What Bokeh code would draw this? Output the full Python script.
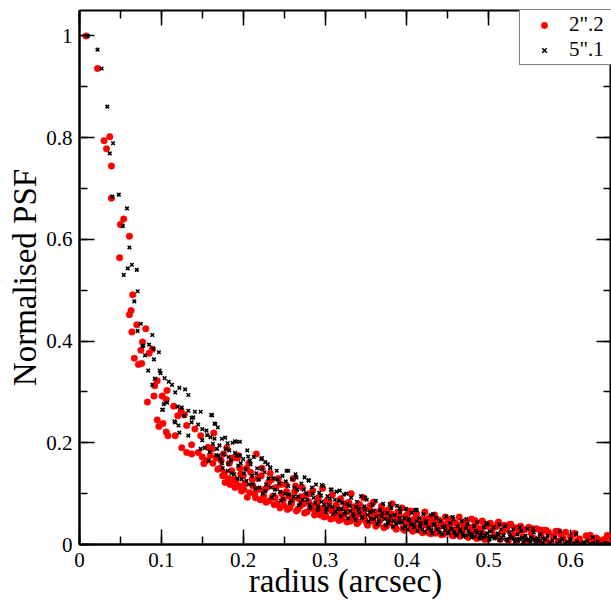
from bokeh.plotting import figure
from bokeh.models import (LinearAxis, SingleIntervalTicker, NumeralTickFormatter,
                          CustomJSTickFormatter, ColumnDataSource)
from bokeh.embed import file_html
from bokeh.resources import INLINE

# ---- data: (radius arcsec, normalised PSF) ----
core_22 = [(0.008,1.0),(0.022,0.936),(0.037,0.802),(0.030,0.794),(0.033,0.778),(0.039,0.744),
    (0.039,0.681),(0.054,0.640),(0.050,0.629),(0.061,0.606),(0.049,0.564),(0.065,0.491),
    (0.063,0.460),(0.061,0.452),(0.070,0.432),(0.081,0.424),(0.064,0.418),(0.077,0.398),
    (0.075,0.382),(0.067,0.366),(0.072,0.354),(0.076,0.356),(0.085,0.376),(0.095,0.322),
    (0.092,0.312),(0.083,0.280),(0.091,0.292),(0.101,0.292),(0.107,0.303),(0.106,0.285),
    (0.115,0.272),(0.124,0.263),(0.128,0.255),(0.095,0.245),(0.102,0.238),(0.141,0.227),
    (0.089,0.384),(0.120,0.253),(0.097,0.232),(0.131,0.234),(0.106,0.221),(0.108,0.214),
    (0.117,0.214),(0.148,0.214),(0.164,0.219),(0.137,0.196),(0.125,0.190),(0.131,0.181),
    (0.137,0.178),(0.145,0.181),(0.157,0.191),(0.162,0.188),(0.150,0.172),(0.152,0.159),
    (0.176,0.178),(0.194,0.175)]
halo_22 = [(0.172,0.150),(0.175,0.135),(0.178,0.122),(0.180,0.190),(0.183,0.160),(0.186,0.145),
    (0.188,0.128),(0.190,0.112),(0.193,0.170),(0.196,0.150),(0.198,0.105),(0.200,0.135),
    (0.202,0.120),(0.205,0.093),(0.207,0.160),(0.209,0.142),
    (0.212,0.115),(0.214,0.100),(0.216,0.178),(0.218,0.130),(0.221,0.088),(0.223,0.150),
    (0.226,0.108),(0.228,0.083),(0.231,0.122),(0.233,0.140),(0.236,0.095),(0.238,0.078),
    (0.240,0.112),(0.243,0.130),(0.245,0.072),(0.247,0.100),(0.249,0.088),
    (0.252,0.118),(0.254,0.069),(0.256,0.095),(0.259,0.080),(0.261,0.130),(0.263,0.104),
    (0.265,0.066),(0.268,0.090),(0.270,0.076),(0.272,0.112),(0.275,0.062),(0.277,0.098),
    (0.280,0.084),(0.282,0.071),(0.285,0.106),(0.287,0.058),(0.290,0.078),(0.292,0.092),
    (0.295,0.065),(0.297,0.110),(0.299,0.054),
    (0.302,0.086),(0.304,0.070),(0.307,0.050),(0.309,0.098),(0.312,0.062),(0.314,0.078),
    (0.317,0.047),(0.319,0.090),(0.322,0.058),(0.324,0.072),(0.327,0.044),(0.329,0.083),
    (0.332,0.100),(0.334,0.054),(0.337,0.067),(0.339,0.041),(0.342,0.079),(0.344,0.060),
    (0.347,0.092),(0.349,0.048),
    (0.352,0.038),(0.354,0.070),(0.357,0.056),(0.359,0.083),(0.362,0.036),(0.364,0.062),
    (0.367,0.047),(0.369,0.075),(0.372,0.033),(0.374,0.058),(0.377,0.068),(0.379,0.042),
    (0.382,0.080),(0.384,0.052),(0.387,0.030),(0.389,0.064),(0.392,0.045),(0.394,0.072),
    (0.397,0.028),(0.399,0.056),
    (0.402,0.040),(0.404,0.066),(0.407,0.026),(0.409,0.050),(0.412,0.060),(0.414,0.034),
    (0.417,0.045),(0.419,0.023),(0.422,0.064),(0.424,0.038),(0.427,0.052),(0.429,0.021),
    (0.432,0.044),(0.434,0.058),(0.437,0.031),(0.439,0.048),(0.442,0.019),(0.444,0.040),
    (0.447,0.054),(0.449,0.027),
    (0.452,0.036),(0.454,0.050),(0.457,0.017),(0.459,0.043),(0.462,0.030),(0.464,0.054),
    (0.467,0.022),(0.469,0.038),(0.472,0.046),(0.474,0.015),(0.477,0.034),(0.479,0.050),
    (0.482,0.026),(0.484,0.041),(0.487,0.013),(0.489,0.031),(0.492,0.046),(0.494,0.020),
    (0.497,0.036),(0.499,0.011),
    (0.502,0.042),(0.504,0.028),(0.507,0.017),(0.509,0.035),(0.512,0.044),(0.514,0.010),
    (0.517,0.024),(0.519,0.038),(0.522,0.030),(0.524,0.008),(0.527,0.040),(0.529,0.020),
    (0.532,0.033),(0.534,0.007),(0.537,0.026),(0.539,0.036),(0.542,0.015),(0.544,0.029),
    (0.547,0.006),(0.549,0.034),
    (0.552,0.022),(0.555,0.012),(0.558,0.031),(0.561,0.005),(0.564,0.018),(0.567,0.028),
    (0.570,0.009),(0.573,0.024),(0.576,0.004),(0.579,0.016),(0.582,0.026),(0.585,0.007),
    (0.588,0.020),(0.591,0.012),(0.594,0.024),(0.597,0.003),(0.600,0.015),(0.604,0.020),
    (0.607,0.006),(0.611,0.011),(0.615,0.002),(0.619,0.017),(0.623,0.008),(0.627,0.003),
    (0.631,0.013),(0.636,0.005),(0.641,0.010),(0.645,0.018),(0.648,0.003),
    (0.511,0.041),(0.525,0.039),(0.538,0.034),(0.553,0.031),(0.562,0.029),(0.570,0.028),
    (0.585,0.026),(0.605,0.022),(0.624,0.018),(0.633,0.011),(0.645,0.016),(0.483,0.047),
    (0.493,0.044),(0.501,0.041)]
fill_22 = [(0.155,0.165),(0.160,0.175),(0.163,0.160),(0.167,0.170),(0.169,0.148),(0.173,0.165),
    (0.177,0.140),(0.182,0.130),(0.184,0.118),(0.187,0.170),(0.191,0.125),(0.195,0.115),
    (0.197,0.138),(0.201,0.108),(0.204,0.150),(0.208,0.102),(0.211,0.128),(0.215,0.092),
    (0.219,0.108),(0.222,0.135),(0.225,0.095),(0.229,0.112),(0.232,0.086),(0.235,0.128),
    (0.239,0.092),(0.242,0.080),(0.246,0.118),(0.250,0.076),(0.253,0.104),(0.257,0.072),
    (0.260,0.088),(0.264,0.115),(0.267,0.070),(0.271,0.094),(0.274,0.080),(0.278,0.064),
    (0.281,0.100),(0.284,0.076),(0.288,0.066),(0.291,0.085),(0.294,0.058),(0.298,0.072),
    (0.301,0.056),(0.305,0.082),(0.308,0.066),(0.311,0.052),(0.315,0.070),(0.318,0.060),
    (0.321,0.050),(0.325,0.080),(0.328,0.064),(0.331,0.046),(0.335,0.074),(0.338,0.056),
    (0.341,0.044),(0.345,0.068),(0.348,0.058),(0.351,0.042),(0.355,0.076),(0.358,0.046),
    (0.361,0.064),(0.365,0.040),(0.368,0.054),(0.371,0.066),(0.375,0.036),(0.378,0.050),
    (0.381,0.060),(0.385,0.034),(0.388,0.046),(0.391,0.056),(0.395,0.032),(0.398,0.044),
    (0.401,0.060),(0.405,0.030),(0.408,0.042),(0.411,0.052),(0.415,0.028),(0.418,0.038),
    (0.421,0.050),(0.425,0.024),(0.428,0.036),(0.431,0.048),(0.435,0.022),(0.438,0.034),
    (0.441,0.044),(0.445,0.020),(0.448,0.032),(0.451,0.046),(0.455,0.018),(0.458,0.028),
    (0.461,0.040),(0.465,0.016),(0.468,0.026),(0.471,0.036),(0.475,0.014),(0.478,0.024),
    (0.481,0.032),(0.485,0.012),(0.488,0.022),(0.491,0.030),(0.495,0.010)]

core_51 = [(0.010,1.0),(0.022,0.973),(0.027,0.936),(0.034,0.861),(0.041,0.789),(0.037,0.769),
    (0.040,0.684),(0.048,0.688),(0.058,0.661),(0.053,0.626),(0.061,0.584),(0.064,0.550),
    (0.059,0.543),(0.070,0.540),(0.054,0.530),(0.071,0.498),(0.067,0.478),(0.075,0.434),
    (0.071,0.420),(0.089,0.412),(0.085,0.393),(0.078,0.391),(0.090,0.385),(0.080,0.372),
    (0.084,0.342),(0.091,0.364),(0.097,0.378),(0.098,0.342),(0.099,0.337),(0.104,0.327),
    (0.092,0.326),(0.089,0.314),(0.113,0.314),(0.117,0.299),(0.122,0.308),(0.129,0.305),
    (0.133,0.294),(0.101,0.265),(0.139,0.250),(0.148,0.261),(0.162,0.254),(0.169,0.230),
    (0.116,0.242),(0.121,0.234),(0.077,0.390),(0.109,0.320),(0.107,0.279),(0.103,0.276),
    (0.102,0.265),(0.120,0.271),(0.125,0.269),(0.133,0.263),(0.141,0.261),(0.128,0.253),
    (0.137,0.249),(0.117,0.240),(0.137,0.240),(0.145,0.236),(0.161,0.255),(0.165,0.238),
    (0.150,0.227),(0.155,0.224),(0.122,0.220),(0.133,0.214),(0.160,0.211),(0.165,0.208),
    (0.174,0.208),(0.181,0.199),(0.190,0.203),(0.148,0.188),(0.168,0.188),(0.158,0.165),
    (0.170,0.175),(0.182,0.172)]
halo_51 = [(0.171,0.195),(0.174,0.160),(0.176,0.178),(0.178,0.210),(0.181,0.145),(0.183,0.185),
    (0.185,0.165),(0.187,0.200),(0.189,0.138),(0.192,0.175),(0.194,0.155),(0.196,0.202),
    (0.198,0.128),(0.200,0.168),(0.203,0.148),(0.205,0.185),(0.207,0.118),(0.209,0.158),
    (0.211,0.135),(0.213,0.172),(0.215,0.110),(0.217,0.150),(0.219,0.128),(0.222,0.168),
    (0.224,0.100),(0.226,0.142),(0.228,0.118),(0.230,0.158),(0.233,0.151),(0.235,0.092),
    (0.237,0.130),(0.239,0.108),(0.241,0.145),(0.244,0.120),(0.246,0.086),(0.248,0.135),
    (0.251,0.100),(0.253,0.145),(0.255,0.115),(0.257,0.082),(0.260,0.128),(0.262,0.094),
    (0.264,0.138),(0.266,0.108),(0.268,0.077),(0.271,0.120),(0.273,0.088),(0.275,0.132),
    (0.277,0.100),(0.280,0.126),(0.282,0.072),(0.284,0.112),(0.286,0.092),(0.289,0.118),
    (0.291,0.068),(0.293,0.102),(0.296,0.084),(0.298,0.115),
    (0.301,0.064),(0.303,0.095),(0.305,0.078),(0.307,0.108),(0.310,0.060),(0.312,0.088),
    (0.314,0.104),(0.316,0.070),(0.319,0.056),(0.321,0.082),(0.323,0.098),(0.325,0.064),
    (0.328,0.052),(0.330,0.076),(0.332,0.092),(0.334,0.060),(0.337,0.048),(0.339,0.084),
    (0.341,0.070),(0.344,0.095),(0.346,0.054),(0.348,0.075),
    (0.351,0.088),(0.353,0.045),(0.355,0.064),(0.358,0.078),(0.360,0.050),(0.362,0.086),
    (0.364,0.040),(0.367,0.068),(0.369,0.056),(0.371,0.080),(0.374,0.038),(0.376,0.062),
    (0.378,0.048),(0.381,0.072),(0.383,0.035),(0.385,0.058),(0.388,0.076),(0.390,0.044),
    (0.392,0.064),(0.395,0.032),(0.397,0.052),(0.399,0.070),
    (0.401,0.030),(0.403,0.048),(0.406,0.062),(0.408,0.038),(0.410,0.068),(0.413,0.027),
    (0.415,0.052),(0.417,0.042),(0.420,0.060),(0.422,0.025),(0.424,0.046),(0.427,0.034),
    (0.429,0.058),(0.431,0.022),(0.434,0.040),(0.436,0.052),(0.438,0.030),(0.441,0.046),
    (0.443,0.020),(0.446,0.036),(0.448,0.055),
    (0.450,0.024),(0.453,0.042),(0.455,0.030),(0.457,0.050),(0.460,0.018),(0.462,0.036),
    (0.465,0.026),(0.467,0.046),(0.469,0.016),(0.472,0.032),(0.474,0.040),(0.477,0.021),
    (0.479,0.014),(0.482,0.036),(0.484,0.027),(0.486,0.044),(0.489,0.012),(0.491,0.024),
    (0.494,0.034),(0.496,0.018),(0.499,0.040),
    (0.501,0.010),(0.503,0.026),(0.506,0.034),(0.508,0.015),(0.511,0.022),(0.513,0.009),
    (0.515,0.030),(0.518,0.018),(0.520,0.036),(0.523,0.008),(0.525,0.024),(0.528,0.013),
    (0.530,0.030),(0.532,0.006),(0.535,0.020),(0.537,0.011),(0.540,0.027),(0.542,0.005),
    (0.545,0.017),(0.547,0.031),(0.549,0.009),
    (0.552,0.014),(0.555,0.024),(0.557,0.005),(0.560,0.012),(0.563,0.020),(0.566,0.004),
    (0.569,0.010),(0.572,0.017),(0.575,0.003),(0.578,0.008),(0.581,0.014),(0.584,0.002),
    (0.587,0.006),(0.590,0.011),(0.593,0.002),(0.596,0.005),(0.600,0.009),(0.604,0.002),
    (0.608,0.006),(0.612,0.001),(0.616,0.004),(0.620,0.007),(0.624,0.001),(0.628,0.003),
    (0.633,0.005),(0.638,0.001),(0.643,0.003),(0.648,0.001),
    (0.166,0.237),(0.192,0.202),(0.196,0.175),(0.206,0.173),(0.223,0.170),(0.227,0.162),
    (0.233,0.151),(0.255,0.145),(0.265,0.132),(0.280,0.126),(0.296,0.117),(0.308,0.108),
    (0.318,0.106),(0.326,0.100),(0.349,0.092),(0.379,0.079),(0.391,0.071),(0.412,0.068),
    (0.432,0.060),(0.456,0.054),(0.473,0.050),(0.497,0.042),(0.513,0.039),(0.538,0.034),
    (0.554,0.031),(0.587,0.026),(0.607,0.021),(0.627,0.014)]
fill_51 = [(0.150,0.205),(0.153,0.190),(0.156,0.215),(0.159,0.182),(0.163,0.198),(0.167,0.176),
    (0.172,0.168),(0.175,0.150),(0.179,0.188),(0.182,0.158),(0.186,0.140),(0.190,0.180),
    (0.193,0.130),(0.197,0.160),(0.201,0.140),(0.204,0.125),(0.208,0.165),(0.212,0.118),
    (0.216,0.140),(0.220,0.112),(0.223,0.150),(0.227,0.105),(0.231,0.130),(0.234,0.112),
    (0.238,0.098),(0.242,0.128),(0.245,0.104),(0.249,0.090),(0.252,0.124),(0.256,0.098),
    (0.259,0.086),(0.263,0.112),(0.267,0.094),(0.270,0.082),(0.274,0.108),(0.278,0.088),
    (0.281,0.078),(0.285,0.100),(0.288,0.082),(0.292,0.074),(0.295,0.096),(0.299,0.078),
    (0.302,0.070),(0.306,0.090),(0.309,0.074),(0.313,0.064),(0.317,0.086),(0.320,0.070),
    (0.324,0.060),(0.327,0.080),(0.331,0.066),(0.335,0.056),(0.338,0.074),(0.342,0.062),
    (0.345,0.052),(0.349,0.068),(0.352,0.058),(0.356,0.050),(0.359,0.066),(0.363,0.054),
    (0.366,0.046),(0.370,0.062),(0.373,0.050),(0.377,0.042),(0.380,0.056),(0.384,0.046),
    (0.387,0.040),(0.391,0.052),(0.394,0.044),(0.398,0.036),(0.402,0.050),(0.405,0.040),
    (0.409,0.034),(0.412,0.046),(0.416,0.036),(0.419,0.030),(0.423,0.042),(0.426,0.032),
    (0.430,0.028),(0.433,0.038),(0.437,0.030),(0.440,0.024),(0.444,0.034),(0.447,0.028),
    (0.451,0.022),(0.454,0.032),(0.458,0.024),(0.461,0.020),(0.465,0.030),(0.468,0.022),
    (0.472,0.018),(0.475,0.027),(0.479,0.020),(0.483,0.016),(0.486,0.024),(0.490,0.018),
    (0.494,0.014),(0.498,0.022),(0.503,0.016),(0.507,0.012),(0.512,0.019),(0.516,0.013),
    (0.521,0.010),(0.526,0.016),(0.531,0.011),(0.536,0.008),(0.541,0.013),(0.546,0.009),
    (0.551,0.006),(0.556,0.010),(0.561,0.007),(0.566,0.012)]

series_labels = ['2".2', '5".1']
x_range = (0.0, 0.65)
y_range = (0.0, 1.05)

FONT = "Liberation Serif"

p = figure(width=611, height=602, x_range=x_range, y_range=y_range,
           output_backend="svg", toolbar_location=None, title=None,
           min_border_left=79, min_border_right=0, min_border_top=10, min_border_bottom=58)
p.background_fill_color = "white"
p.border_fill_color = "white"
p.outline_line_color = "black"
p.outline_line_width = 2
p.xgrid.visible = False
p.ygrid.visible = False

def unzip(pts):
    return [a for a, b in pts], [b for a, b in pts]

rx, ry = unzip(core_22 + halo_22 + fill_22)
bx, by = unzip(core_51 + halo_51 + fill_51)

p.scatter(x="x", y="y", source=ColumnDataSource(dict(x=rx, y=ry)), marker="circle",
          size=6.5, fill_color="#ff0000", line_color="#ff0000", line_width=0.5,
          legend_label=series_labels[0])
p.scatter(x="x", y="y", source=ColumnDataSource(dict(x=bx, y=by)), marker="x",
          size=5, line_color="black", line_width=1.6,
          legend_label=series_labels[1])

def style(ax, labels=True):
    ax.major_tick_in = 15
    ax.major_tick_out = 0
    ax.minor_tick_in = 8
    ax.minor_tick_out = 0
    ax.major_tick_line_color = "black"
    ax.major_tick_line_width = 1.5
    ax.minor_tick_line_color = "black"
    ax.minor_tick_line_width = 1.5
    ax.axis_line_color = "black"
    ax.axis_line_width = 2
    ax.major_label_text_font = FONT
    ax.major_label_text_font_size = "21px"
    ax.major_label_text_color = "black"
    ax.axis_label_text_font = FONT
    ax.axis_label_text_font_size = "33px"
    ax.axis_label_text_font_style = "normal"
    ax.axis_label_text_color = "black"
    if labels:
        ax.formatter = NumeralTickFormatter(format="0.[0]")
    else:
        ax.formatter = CustomJSTickFormatter(code="return '';")
        ax.major_label_standoff = 0
        ax.axis_line_color = None

p.xaxis.ticker = SingleIntervalTicker(interval=0.1, num_minor_ticks=2)
p.yaxis.ticker = SingleIntervalTicker(interval=0.2, num_minor_ticks=2)
style(p.xaxis[0])
style(p.yaxis[0])
p.xaxis.axis_label = "radius (arcsec)"
p.yaxis.axis_label = "Normalised PSF"
p.xaxis.major_label_standoff = 8
p.yaxis.major_label_standoff = 7
p.xaxis.axis_label_standoff = -7
p.yaxis.axis_label_standoff = 0

top = LinearAxis(ticker=SingleIntervalTicker(interval=0.1, num_minor_ticks=2))
style(top, labels=False)
p.add_layout(top, "above")
right = LinearAxis(ticker=SingleIntervalTicker(interval=0.2, num_minor_ticks=2))
style(right, labels=False)
p.add_layout(right, "right")

lg = p.legend[0]
lg.location = (440, 479)
lg.margin = 0
lg.padding = 2
lg.spacing = -3
lg.border_line_color = "black"
lg.border_line_width = 1
lg.background_fill_color = "white"
lg.background_fill_alpha = 1
lg.label_text_font = FONT
lg.label_text_font_size = "21px"
lg.label_text_color = "black"
lg.glyph_width = 44
lg.glyph_height = 16
lg.label_height = 16
lg.label_width = 52
lg.label_standoff = 3

open("out.html", "w").write(file_html(p, INLINE))
